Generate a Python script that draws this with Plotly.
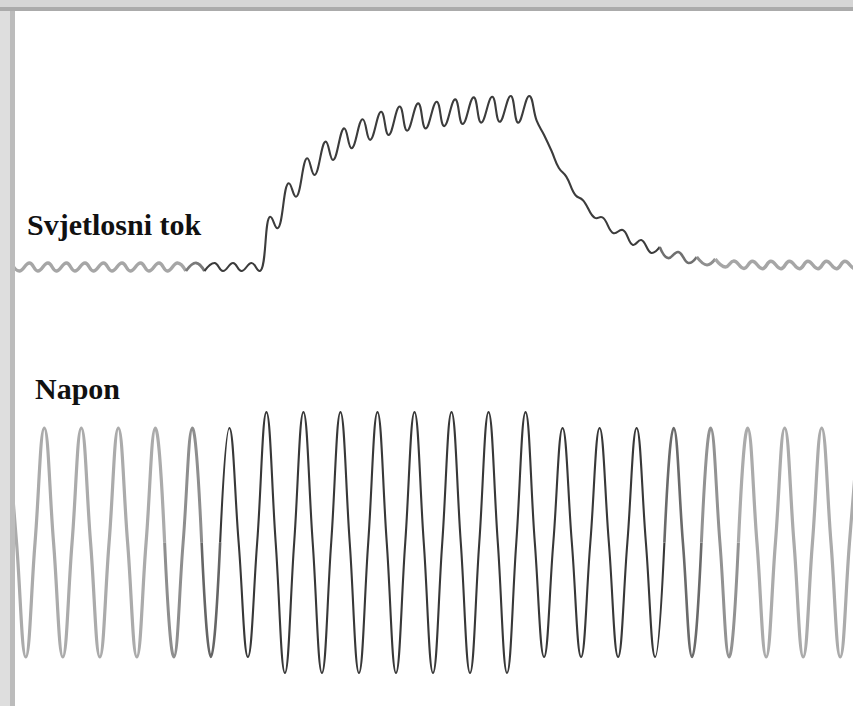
import plotly.graph_objects as go

# ---------------- data ----------------
# Mains voltage (V) sampled at its extrema and zero crossings, time in ms
volt_t_ms = [-20, -15, -10, -5,
             0, 5, 10, 15, 20, 25, 30, 35, 40, 45, 50, 55, 60, 65, 70, 75,
             80, 85, 90, 95, 100, 105, 110, 115, 120, 125, 130, 135, 140, 145, 150, 155,
             160, 165, 170, 175, 180, 185, 190, 195, 200, 205, 210, 215, 220, 225, 230, 235,
             240, 245, 250, 255, 260, 265, 270, 275, 280, 285, 290, 295, 300, 305, 310, 315,
             320, 325, 330, 335, 340, 345, 350, 355, 360, 365, 370, 375, 380, 385, 390, 395,
             400, 405, 410, 415, 420, 425, 430, 435, 440]
volt_v = [325, 0, -325, 0,
          325, 0, -325, 0, 325, 0, -325, 0, 325, 0, -325, 0, 325, 0, -325, 0,
          325, 0, -325, 0, 325, 0, -325, 0, 370, 0, -370, 0, 370, 0, -370, 0,
          370, 0, -370, 0, 370, 0, -370, 0, 370, 0, -370, 0, 370, 0, -370, 0,
          370, 0, -370, 0, 370, 0, -325, 0, 325, 0, -325, 0, 325, 0, -325, 0,
          325, 0, -325, 0, 325, 0, -325, 0, 325, 0, -325, 0, 325, 0, -325, 0,
          325, 0, -325, 0, 325, 0, -325, 0, 325]

# Luminous flux (% of steady value) at ripple extrema, time in ms
flux_t_ms = [-18, -13.5, -8, -3.5, 2, 6.5, 12, 16.5, 22, 26.5, 32, 36.5, 42, 46.5,
             52, 56.5, 62, 66.5, 72, 76.5, 82, 86.5, 92, 96.5, 102, 106.5, 112, 116.5,
             122, 126, 132, 136, 142, 146, 152, 156, 162, 166, 172, 176, 182, 186,
             192, 196, 202, 206, 212, 216, 222, 226, 232, 236, 242, 246, 252, 256, 262,
             266, 270, 274, 278, 282, 287, 291, 297.5, 301.5, 307.5, 312.5, 318, 322.5,
             328, 332.5, 337, 342.5, 348, 352.5, 358, 362.5, 368, 372.5, 378, 382.5,
             388, 392.5, 398, 402.5, 408, 412.5, 418, 422.5, 428, 432.5, 438, 442.5]
flux_pct = [101.4, 98.6, 101.4, 98.6, 101.4, 98.6, 101.4, 98.6, 101.4, 98.6, 101.4, 98.6, 101.4, 98.6,
            101.4, 98.6, 101.4, 98.6, 101.4, 98.6, 101.4, 98.6, 101.4, 98.6, 101.4, 98.6, 101.4, 98.6,
            117.5, 113.5, 129.2, 124.5, 137.9, 132.1, 143.7, 137.3, 148.3, 141.4, 151.5, 144.3, 154.1, 146.0,
            155.9, 147.5, 157.0, 148.3, 157.6, 149.1, 158.4, 149.8, 159.1, 150.3, 159.3, 150.6, 159.6, 150.3, 159.6,
            151.0, 146.0, 140.5, 134.5, 131.5, 125.0, 123.3, 117.1, 117.3, 111.8, 112.9, 107.7, 109.4,
            104.9, 107.0, 103.1, 105.2, 101.4, 103.5, 100.7, 102.8, 100.0, 102.1, 99.5, 102.0,
            99.4, 102.0, 99.4, 102.0, 99.4, 102.0, 99.4, 102.0, 99.4, 102.0, 99.4, 102.0]

labels = ["Svjetlosni tok", "Napon"]

# ---------------- styling ----------------
W, H = 853, 706
volt_bounds = [-20, 65, 85, 95, 335, 355, 375, 440]
volt_colors = ["#ababab", "#8e8e8e", "#656565", "#383838", "#6a6a6a", "#929292", "#ababab"]
volt_widths = [3.2, 3.0, 2.6, 2.1, 2.6, 3.0, 3.2]

flux_bounds = [-18, 76.5, 86.5, 332.5, 352.5, 362.5, 442.5]
flux_colors = ["#a6a6a6", "#7a7a7a", "#3c3c3c", "#707070", "#8f8f8f", "#a6a6a6"]
flux_widths = [3.4, 2.8, 2.1, 2.6, 3.0, 3.4]

fig = go.Figure()


def add_segments(t, y, bounds, colors, widths, yaxis, smooth):
    for i in range(len(bounds) - 1):
        a, b = bounds[i], bounds[i + 1]
        xs = [tt for tt in t if a <= tt <= b]
        ys = [yy for tt, yy in zip(t, y) if a <= tt <= b]
        fig.add_trace(go.Scatter(
            x=xs, y=ys, mode="lines", yaxis=yaxis,
            line=dict(color=colors[i], width=widths[i], shape="spline", smoothing=smooth),
            hoverinfo="skip", showlegend=False))


add_segments(flux_t_ms, flux_pct, flux_bounds, flux_colors, flux_widths, "y", 1.3)
add_segments(volt_t_ms, volt_v, volt_bounds, volt_colors, volt_widths, "y2", 1.3)

# axis scaling: 1 ms = 1.851 px, first voltage peak at 44.3 px
px_per_ms = 1.851
x0 = -44.3 / px_per_ms
x1 = x0 + W / px_per_ms
# flux: 2.87 px per %, 100 % at 267 px from top
px_per_pct = 2.87
f_min = 100 - (H - 267) / px_per_pct
f_max = f_min + H / px_per_pct
# voltage: 114.5 px per 325 V, 0 V at 542.5 px from top
px_per_v = 114.5 / 325
v_min = -(H - 542.5) / px_per_v
v_max = v_min + H / px_per_v

fig.update_layout(
    width=W, height=H,
    margin=dict(l=0, r=0, t=0, b=0),
    paper_bgcolor="white", plot_bgcolor="white",
    xaxis=dict(range=[x0, x1], visible=False, fixedrange=True),
    yaxis=dict(range=[f_min, f_max], visible=False, fixedrange=True),
    yaxis2=dict(range=[v_min, v_max], visible=False, overlaying="y", fixedrange=True),
    showlegend=False,
)

# frame (grey border strips at top and left)
frame = [
    dict(x0=0, x1=1, y0=1 - 11 / H, y1=1, color="#d6d6d6"),
    dict(x0=0, x1=1, y0=1 - 11 / H, y1=1 - 7 / H, color="#ababab"),
    dict(x0=0, x1=15 / W, y0=0, y1=1 - 11 / H, color="#dedede"),
    dict(x0=10 / W, x1=15 / W, y0=0, y1=1 - 11 / H, color="#bcbcbc"),
]
for s in frame:
    fig.add_shape(type="rect", xref="paper", yref="paper", x0=s["x0"], x1=s["x1"],
                  y0=s["y0"], y1=s["y1"], fillcolor=s["color"], line_width=0, layer="above")

label_pos = [(27, 224), (35, 388)]
for text, (lx, ly) in zip(labels, label_pos):
    fig.add_annotation(text="<b>%s</b>" % text, xref="paper", yref="paper",
                       x=lx / W, y=1 - ly / H, xanchor="left", yanchor="middle",
                       showarrow=False, borderpad=0, borderwidth=0,
                       font=dict(family="Liberation Serif, Times New Roman, serif", size=30, color="#111111"))

fig.write_html("out.html", config={"displayModeBar": False},
               post_script="document.body.style.margin='0px';document.body.style.overflow='hidden';")
